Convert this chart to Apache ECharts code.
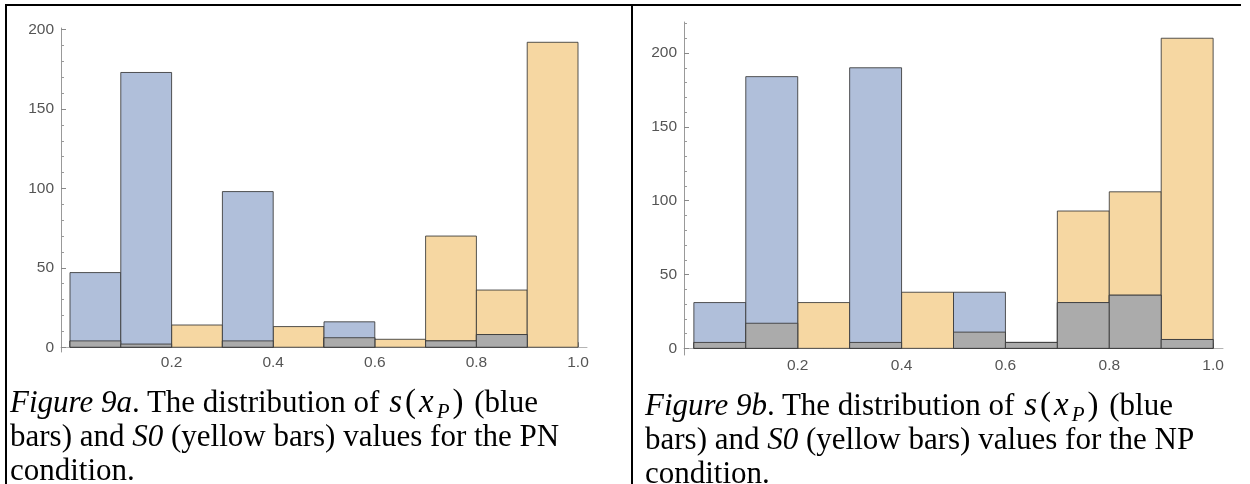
<!DOCTYPE html>
<html><head><meta charset="utf-8">
<script src="https://cdn.jsdelivr.net/npm/echarts@6/dist/echarts.min.js"></script>
<style>
html,body{margin:0;padding:0;background:#fff;}
#wrap{position:relative;width:1250px;height:484px;overflow:hidden;background:#fff;}
#chart{position:absolute;left:0;top:0;width:1250px;height:484px;}
.cap{position:absolute;font-family:"Liberation Serif","Times New Roman",serif;font-size:31px;line-height:34px;color:#000;white-space:nowrap;}
.cap .m{font-size:33px;letter-spacing:3px;margin-left:2px;}
.cap sub{font-size:21px;vertical-align:-6px;line-height:0;}
.bl{position:absolute;background:#000;}
</style></head>
<body><div id="wrap"><div id="chart"></div>
<div class="bl" style="left:5px;top:4px;width:1236px;height:2px"></div>
<div class="bl" style="left:5px;top:4px;width:2px;height:480px"></div>
<div class="bl" style="left:631px;top:4px;width:2px;height:480px"></div>
<div class="cap" style="left:10px;top:384px"><i>Figure 9a</i>. The distribution of <span class="m"><i>s</i>(<i>x</i><sub><i>P</i></sub>)</span> (blue<br>bars) and <i>S0</i> (yellow bars) values for the PN<br>condition.</div>
<div class="cap" style="left:645px;top:387px"><i>Figure 9b</i>. The distribution of <span class="m"><i>s</i>(<i>x</i><sub><i>P</i></sub>)</span> (blue<br>bars) and <i>S0</i> (yellow bars) values for the NP<br>condition.</div>
</div>
<script>
// ---- data ----
const binStarts = [0, 0.1, 0.2, 0.3, 0.4, 0.5, 0.6, 0.7, 0.8, 0.9];
const binWidth = 0.1;
// Figure 9a (PN)
const blueA    = [47, 173, 0, 98, 0, 16, 0, 4, 8, 0];
const yellowA  = [4, 2, 14, 4, 13, 6, 5, 70, 36, 192];
const overlapA = [4, 2, 0, 4, 0, 6, 0, 4, 8, 0];
// Figure 9b (NP)
const blueB    = [31, 184, 0, 190, 0, 38, 4, 31, 36, 6];
const yellowB  = [4, 17, 31, 4, 38, 11, 4, 93, 106, 210];
const overlapB = [4, 17, 0, 4, 0, 11, 4, 31, 36, 6];
// tick labels
const xTickLabels = [0.2, 0.4, 0.6, 0.8, 1.0];
const xMinorTicks = [0.05, 0.1, 0.15, 0.25, 0.3, 0.35, 0.45, 0.5, 0.55, 0.65, 0.7, 0.75, 0.85, 0.9, 0.95];
const yTickLabels = [0, 50, 100, 150, 200];
const yMinorTicksA = [10, 20, 30, 40, 60, 70, 80, 90, 110, 120, 130, 140, 160, 170, 180, 190];
const yMinorTicksB = [10, 20, 30, 40, 60, 70, 80, 90, 110, 120, 130, 140, 160, 170, 180, 190, 210, 220];

const COLORS = { blue: '#b0bfda', yellow: '#f6d7a2', gray: '#ababab' };
const axisGray = '#b4b4b4';
const labelColor = '#555555';

const chart = echarts.init(document.getElementById('chart'), null, { renderer: 'canvas' });

function renderBar(fill) {
  return function (params, api) {
    const x0 = api.value(0), v = api.value(1);
    if (!v) return null;
    const p0 = api.coord([x0, v]);
    const p1 = api.coord([x0 + binWidth, 0]);
    return {
      type: 'rect',
      shape: { x: p0[0], y: p0[1], width: p1[0] - p0[0], height: p1[1] - p0[1] },
      style: { fill: fill, stroke: 'rgba(55,55,55,0.85)', lineWidth: 1 }
    };
  };
}
function seriesFor(vals, fill, axisIdx, z) {
  return {
    type: 'custom', xAxisIndex: axisIdx, yAxisIndex: axisIdx, z: z,
    renderItem: renderBar(fill), encode: { x: 0, y: 1 },
    data: binStarts.map((b, i) => [b, vals[i]]), silent: true, animation: false
  };
}
function xAxes(gridIndex, min, max) {
  return [
    { type: 'value', gridIndex, min, max, position: 'bottom', axisLine: { onZero: true, lineStyle: { color: axisGray, width: 1 } },
      splitLine: { show: false },
      axisTick: { show: true, inside: true, length: 5, customValues: xTickLabels, lineStyle: { color: '#888' } },
      axisLabel: { show: true, customValues: xTickLabels, color: labelColor, fontFamily: 'Liberation Sans, Arial, sans-serif', fontSize: 15.5, margin: 3,
        formatter: v => v.toFixed(1) } },
    { type: 'value', gridIndex, min, max, position: 'bottom', axisLine: { show: false, onZero: true },
      splitLine: { show: false },
      axisTick: { show: true, inside: true, length: 3, customValues: xMinorTicks, lineStyle: { color: '#888' } },
      axisLabel: { show: false } }
  ];
}
function yAxes(gridIndex, min, max, minor) {
  return [
    { type: 'value', gridIndex, min, max, position: 'left', axisLine: { show: true, onZero: false, lineStyle: { color: '#999', width: 1 } },
      splitLine: { show: false },
      axisTick: { show: true, inside: true, length: 5, customValues: yTickLabels, lineStyle: { color: '#888' } },
      axisLabel: { show: true, customValues: yTickLabels, color: labelColor, fontFamily: 'Liberation Sans, Arial, sans-serif', fontSize: 15.5, margin: 7 } },
    { type: 'value', gridIndex, min, max, position: 'left', axisLine: { show: false, onZero: false },
      splitLine: { show: false },
      axisTick: { show: true, inside: true, length: 3, customValues: minor, lineStyle: { color: '#999' } },
      axisLabel: { show: false } }
  ];
}

const option = {
  animation: false,
  backgroundColor: 'transparent',
  grid: [
    { left: 61, top: 28, width: 526, height: 324, containLabel: false },
    { left: 684, top: 22, width: 539, height: 333, containLabel: false }
  ],
  xAxis: [...xAxes(0, -0.0177, 1.0177), ...xAxes(1, -0.019, 1.019)],
  yAxis: [...yAxes(0, -3, 201, yMinorTicksA), ...yAxes(1, -4.5, 221, yMinorTicksB)],
  series: [
    seriesFor(yellowA, COLORS.yellow, 0, 1),
    seriesFor(blueA, COLORS.blue, 0, 2),
    seriesFor(overlapA, COLORS.gray, 0, 3),
    seriesFor(yellowB, COLORS.yellow, 2, 1),
    seriesFor(blueB, COLORS.blue, 2, 2),
    seriesFor(overlapB, COLORS.gray, 2, 3)
  ]
};
chart.setOption(option);
</script>
</body></html>
